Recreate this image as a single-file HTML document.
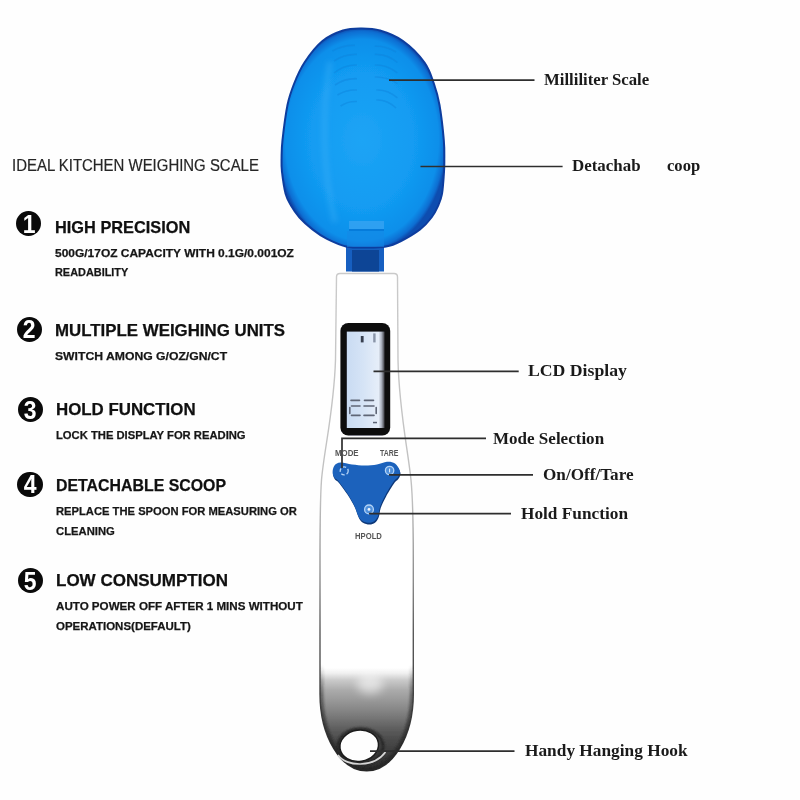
<!DOCTYPE html>
<html lang="en">
<head>
<meta charset="utf-8">
<title>Digital Spoon Scale - Features</title>
<style>
html,body{margin:0;padding:0;background:#fefefe;}
body{width:800px;height:800px;position:relative;overflow:hidden;font-family:"Liberation Sans",sans-serif;}
#art{position:absolute;left:0;top:0;width:800px;height:800px;}
.t{position:absolute;margin:0;padding:0;white-space:nowrap;line-height:1;transform-origin:0 0;filter:blur(0.35px);}
.n{font-family:"Liberation Sans",sans-serif;font-weight:700;-webkit-text-stroke:0.25px currentColor;}
.s{font-family:"Liberation Serif",serif;font-weight:700;}
.r{font-weight:400;-webkit-text-stroke:0.2px currentColor;}
.k{-webkit-text-stroke:0;}
.num{position:absolute;width:25px;height:25px;border-radius:50%;background:#0a0a0a;color:#fff;font-family:"Liberation Sans",sans-serif;font-weight:700;font-size:25.5px;text-align:center;filter:blur(0.35px);}
.num b{display:inline-block;transform:scaleX(0.9);position:relative;top:0.6px;}
</style>
</head>
<body>
<svg id="art" width="800" height="800" viewBox="0 0 800 800">
<defs>
  <radialGradient id="scoopG" gradientUnits="userSpaceOnUse" cx="362" cy="140" r="112" gradientTransform="translate(362 140) scale(0.76 1) translate(-362 -140)">
    <stop offset="0" stop-color="#1ea4f5"/>
    <stop offset="0.6" stop-color="#129cf2"/>
    <stop offset="0.9" stop-color="#0e8fea"/>
    <stop offset="0.97" stop-color="#0b6ed2"/>
    <stop offset="1" stop-color="#0a4eb0"/>
  </radialGradient>
  <linearGradient id="handleG" gradientUnits="userSpaceOnUse" x1="0" y1="668" x2="0" y2="771">
    <stop offset="0" stop-color="#ffffff"/>
    <stop offset="0.05" stop-color="#f0f0f0"/>
    <stop offset="0.117" stop-color="#cacaca"/>
    <stop offset="0.214" stop-color="#ababab"/>
    <stop offset="0.31" stop-color="#999999"/>
    <stop offset="0.408" stop-color="#868686"/>
    <stop offset="0.505" stop-color="#717171"/>
    <stop offset="0.6" stop-color="#5c5c5c"/>
    <stop offset="0.7" stop-color="#4a4a4a"/>
    <stop offset="0.893" stop-color="#353535"/>
    <stop offset="1" stop-color="#2c2c2c"/>
  </linearGradient>
  <linearGradient id="handleS" gradientUnits="userSpaceOnUse" x1="0" y1="274" x2="0" y2="771">
    <stop offset="0" stop-color="#cacaca"/>
    <stop offset="0.45" stop-color="#c0c0c0"/>
    <stop offset="0.62" stop-color="#8a8a8a"/>
    <stop offset="0.72" stop-color="#5a5a5a"/>
    <stop offset="1" stop-color="#2a2a2a"/>
  </linearGradient>
  <linearGradient id="edgeG" gradientUnits="userSpaceOnUse" x1="0" y1="665" x2="0" y2="771">
    <stop offset="0" stop-color="#333" stop-opacity="0"/>
    <stop offset="0.3" stop-color="#333" stop-opacity="0.55"/>
    <stop offset="1" stop-color="#222" stop-opacity="0.9"/>
  </linearGradient>
  <linearGradient id="lcdG" x1="0" y1="0" x2="1" y2="0">
    <stop offset="0" stop-color="#c9dbf2"/>
    <stop offset="0.45" stop-color="#d6e4f6"/>
    <stop offset="0.84" stop-color="#e6eef9"/>
    <stop offset="0.92" stop-color="#a8aebb"/>
    <stop offset="1" stop-color="#3a3b40"/>
  </linearGradient>
  <filter id="b1"><feGaussianBlur stdDeviation="0.6"/></filter>
  <filter id="b2" x="-0.2" y="-0.2" width="1.4" height="1.4"><feGaussianBlur stdDeviation="1.2"/></filter>
  <filter id="b3" filterUnits="userSpaceOnUse" x="280" y="20" width="170" height="240"><feGaussianBlur stdDeviation="2.5"/></filter>
  <filter id="b5" x="-1" y="-1" width="3" height="3"><feGaussianBlur stdDeviation="5"/></filter>
  <clipPath id="handleClip"><path d="M340 273.5 L394 273.5 Q397.5 273.5 397.5 277 L398 360 C399 410 408 450 411 480 C413 500 413.3 520 413.3 560 L413.3 694 A46.65 77 0 0 1 320 694 L320 560 C320 520 320 500 321.5 480 C324 450 334 410 335.5 360 L336.5 277 Q336.5 273.5 340 273.5 Z"/></clipPath>
</defs>

<!-- connector -->
<g filter="url(#b1)">
<rect x="346" y="244" width="38" height="27.5" fill="#125fc0"/>
<rect x="352" y="250" width="27" height="21.5" fill="#0a4596"/>
</g>

<!-- handle -->
<g filter="url(#b1)">
<path d="M340 273.5 L394 273.5 Q397.5 273.5 397.5 277 L398 360 C399 410 408 450 411 480 C413 500 413.3 520 413.3 560 L413.3 694 A46.65 77 0 0 1 320 694 L320 560 C320 520 320 500 321.5 480 C324 450 334 410 335.5 360 L336.5 277 Q336.5 273.5 340 273.5 Z" fill="url(#handleG)" stroke="url(#handleS)" stroke-width="1.4"/>
<g clip-path="url(#handleClip)">
  <ellipse cx="370" cy="684" rx="13" ry="10" fill="#ffffff" opacity="0.55" filter="url(#b5)"/>
  <path d="M340 273.5 L394 273.5 Q397.5 273.5 397.5 277 L398 360 C399 410 408 450 411 480 C413 500 413.3 520 413.3 560 L413.3 694 A46.65 77 0 0 1 320 694 L320 560 C320 520 320 500 321.5 480 C324 450 334 410 335.5 360 L336.5 277 Q336.5 273.5 340 273.5 Z" fill="none" stroke="url(#edgeG)" stroke-width="7" filter="url(#b2)"/>
</g>
<!-- hanging hole -->
<ellipse cx="360.5" cy="746.5" rx="22.5" ry="17.5" fill="none" stroke="#262626" stroke-width="3" filter="url(#b2)"/>
<path d="M338 755 C346 767 374 768 385.5 752" fill="none" stroke="#d6d6d6" stroke-width="1.7"/>
<ellipse cx="359.2" cy="745.7" rx="19.4" ry="15.6" fill="#fefefe" stroke="#1c1c1c" stroke-width="1.5" transform="rotate(-8 359.2 745.7)"/>
</g>

<!-- scoop -->
<g filter="url(#b1)">
<path id="scoop" d="M361.0 28.5 C367.2 28.5 373.0 28.4 380.0 30.5 C387.0 32.6 395.6 35.7 403.0 41.0 C410.4 46.3 419.3 55.3 424.5 62.5 C429.7 69.7 431.5 76.9 434.0 84.0 C436.5 91.1 437.9 95.7 439.5 105.0 C441.1 114.3 443.0 130.8 443.8 140.0 C444.6 149.2 444.3 154.7 444.3 160.0 C444.3 165.3 444.4 166.4 444.0 172.0 C443.6 177.6 443.0 188.2 442.0 193.8 C441.0 199.3 439.9 201.6 438.2 205.6 C436.4 209.6 434.5 213.5 431.5 217.5 C428.5 221.5 425.1 225.5 420.0 229.4 C414.9 233.3 406.7 238.1 401.0 241.0 C395.3 243.9 391.8 245.5 386.0 246.6 C380.2 247.7 372.7 247.6 366.0 247.6 C359.3 247.6 352.5 247.8 346.0 246.4 C339.5 245.0 332.6 241.7 327.0 238.9 C321.4 236.1 317.1 233.0 312.5 229.4 C307.9 225.8 303.1 221.5 299.5 217.5 C295.9 213.5 293.3 209.6 291.0 205.6 C288.7 201.6 287.1 199.3 285.6 193.8 C284.1 188.2 282.7 178.0 282.0 172.0 C281.3 166.0 281.5 163.3 281.6 158.0 C281.7 152.7 281.5 148.8 282.5 140.0 C283.5 131.2 285.6 114.3 287.5 105.0 C289.4 95.7 291.2 91.1 294.0 84.0 C296.8 76.9 299.8 69.7 304.5 62.5 C309.2 55.3 316.1 46.3 322.5 41.0 C328.9 35.7 336.6 32.6 343.0 30.5 C349.4 28.4 354.8 28.5 361.0 28.5 Z" fill="url(#scoopG)" stroke="#0b3d9e" stroke-width="2"/>
</g>
<!-- scoop details -->
<g fill="none" stroke="#0a7fd8" stroke-width="1.6" opacity="0.4" filter="url(#b1)">
  <path d="M332.5 51.0 Q342.8 44.9 355.0 45.4"/>
  <path d="M334.0 61.0 Q344.5 53.9 357.0 54.4"/>
  <path d="M334.0 73.0 Q344.5 64.5 357.0 65.0"/>
  <path d="M335.0 85.0 Q345.0 78.2 357.0 78.7"/>
  <path d="M337.4 95.0 Q346.2 89.5 357.0 90.0"/>
  <path d="M340.6 106.0 Q347.8 101.0 357.0 101.5"/>
  <path d="M374.8 46.2 Q386.4 45.8 396.0 52.0"/>
  <path d="M374.8 54.4 Q387.1 53.9 397.5 62.5"/>
  <path d="M374.8 65.0 Q387.1 64.5 397.5 73.0"/>
  <path d="M374.8 77.0 Q387.1 76.5 397.5 83.6"/>
  <path d="M376.4 90.0 Q387.9 89.5 397.5 98.0"/>
  <path d="M376.4 100.0 Q387.2 99.5 396.0 108.0"/>
</g>
<g filter="url(#b3)" opacity="0.3">
  <path d="M330 62 C322 110 322 170 335 222" fill="none" stroke="#4ab6fa" stroke-width="6"/>
</g>
<g filter="url(#b1)">
<rect x="349" y="221" width="35" height="8" fill="#45a8f4" opacity="0.6"/>
<rect x="349" y="229" width="35" height="2" fill="#0a6cd0" opacity="0.6"/>
<rect x="347" y="231" width="37" height="16" fill="#1a86e6" opacity="0.55"/>
</g>

<!-- LCD -->
<g filter="url(#b1)">
<rect x="340.4" y="323" width="49.8" height="112.6" rx="8" fill="#0c0c0e"/>
<rect x="346.8" y="331.6" width="37.8" height="96.4" fill="url(#lcdG)"/>
<g fill="none" stroke="#5f6676" stroke-width="1.6" stroke-linecap="round">
  <path d="M351 400.4 H359.5 M351.5 406 H360 M349.8 407.5 V413.5 M351.5 415.4 H360"/>
  <path d="M364.5 400.4 H373.5 M364 406 H374 M376.2 407.5 V413.5 M364 415.4 H374"/>
</g>
<rect x="360.8" y="336" width="2.8" height="6.4" fill="#384050"/>
<rect x="373.2" y="333.4" width="2.4" height="9" fill="#8a95a8"/>
<rect x="373" y="421.8" width="4" height="1.5" fill="#5b6474"/>
</g>

<!-- button -->
<g filter="url(#b1)">
<path d="M332.6 472.3 C332.6 470.3 333.2 467.1 334.5 465.5 C335.8 463.9 337.6 462.6 340.5 462.5 C343.4 462.4 347.9 464.1 352.0 464.6 C356.1 465.1 360.6 465.6 364.8 465.6 C369.0 465.6 373.3 465.1 377.0 464.5 C380.7 463.9 384.0 462.0 387.0 461.8 C390.0 461.6 392.9 462.0 395.0 463.5 C397.1 465.0 399.4 468.6 399.9 470.9 C400.4 473.1 399.0 475.2 398.0 477.0 C397.0 478.8 395.8 478.5 393.7 481.5 C391.6 484.5 387.7 490.9 385.5 495.0 C383.3 499.1 381.5 502.6 380.3 506.0 C379.1 509.4 379.2 513.0 378.2 515.5 C377.2 518.0 376.0 519.8 374.5 521.0 C373.0 522.2 371.0 522.8 369.0 522.8 C367.0 522.8 364.2 522.0 362.5 521.0 C360.8 520.0 359.8 519.0 358.5 516.5 C357.2 514.0 356.2 509.6 354.5 506.0 C352.8 502.4 351.0 499.1 348.4 495.0 C345.8 490.9 341.0 484.4 338.7 481.5 C336.4 478.6 335.3 479.0 334.3 477.5 C333.3 476.0 332.6 474.3 332.6 472.3 Z" fill="#0f3878" transform="translate(0.5 1.8)"/>
<path d="M332.6 472.3 C332.6 470.3 333.2 467.1 334.5 465.5 C335.8 463.9 337.6 462.6 340.5 462.5 C343.4 462.4 347.9 464.1 352.0 464.6 C356.1 465.1 360.6 465.6 364.8 465.6 C369.0 465.6 373.3 465.1 377.0 464.5 C380.7 463.9 384.0 462.0 387.0 461.8 C390.0 461.6 392.9 462.0 395.0 463.5 C397.1 465.0 399.4 468.6 399.9 470.9 C400.4 473.1 399.0 475.2 398.0 477.0 C397.0 478.8 395.8 478.5 393.7 481.5 C391.6 484.5 387.7 490.9 385.5 495.0 C383.3 499.1 381.5 502.6 380.3 506.0 C379.1 509.4 379.2 513.0 378.2 515.5 C377.2 518.0 376.0 519.8 374.5 521.0 C373.0 522.2 371.0 522.8 369.0 522.8 C367.0 522.8 364.2 522.0 362.5 521.0 C360.8 520.0 359.8 519.0 358.5 516.5 C357.2 514.0 356.2 509.6 354.5 506.0 C352.8 502.4 351.0 499.1 348.4 495.0 C345.8 490.9 341.0 484.4 338.7 481.5 C336.4 478.6 335.3 479.0 334.3 477.5 C333.3 476.0 332.6 474.3 332.6 472.3 Z" fill="#1c62bc"/>
<circle cx="344.2" cy="470.9" r="4" fill="none" stroke="#b4d4f6" stroke-width="1.3" stroke-dasharray="3.6 2"/>
<circle cx="389.6" cy="470.5" r="4.2" fill="#4f90dc" stroke="#b4d4f6" stroke-width="1.3"/>
<rect x="389.1" y="468.6" width="1" height="3.8" fill="#e8f2fd"/>
<circle cx="369" cy="509.4" r="4.4" fill="#4f90dc" stroke="#b4d4f6" stroke-width="1.3"/>
<circle cx="369" cy="509.4" r="1.4" fill="#f0f6fe"/>
</g>

<!-- leader lines -->
<g fill="none" stroke="#2e2e2e" stroke-width="1.7" filter="url(#b1)">
  <path d="M389 80.2 H534.5"/>
  <path d="M420.5 166.5 H562.6"/>
  <path d="M373.5 371.4 H518.7"/>
  <path d="M342 468 V438.4 H486"/>
  <path d="M389 474.8 H533"/>
  <path d="M369 513.6 H511"/>
  <path d="M370 751.2 H514.5"/>
</g>
</svg>

<div class="num" style="left:16.35px;top:211.00px;width:24.8px;height:24.8px;line-height:24.8px"><b>1</b></div>
<div class="num" style="left:16.80px;top:316.80px;width:25.4px;height:25.4px;line-height:25.4px"><b>2</b></div>
<div class="num" style="left:17.55px;top:397.05px;width:25.4px;height:25.4px;line-height:25.4px"><b>3</b></div>
<div class="num" style="left:17.40px;top:471.80px;width:25.4px;height:25.4px;line-height:25.4px"><b>4</b></div>
<div class="num" style="left:17.90px;top:568.10px;width:25.4px;height:25.4px;line-height:25.4px"><b>5</b></div>

<h1 class="t n r" style="left:12.1px;top:158px;font-size:16.8px;color:#262626;transform:scaleX(0.8905)">IDEAL KITCHEN WEIGHING SCALE</h1>
<h2 class="t n" style="left:55.0px;top:220px;font-size:16.6px;color:#101010;transform:scaleX(0.9848)">HIGH PRECISION</h2>
<p class="t n" style="left:55.0px;top:248px;font-size:11.5px;color:#161616;transform:scaleX(1.0403)">500G/17OZ CAPACITY WITH 0.1G/0.001OZ</p>
<p class="t n" style="left:55.0px;top:267px;font-size:11.5px;color:#161616;transform:scaleX(0.9481)">READABILITY</p>
<h2 class="t n" style="left:55.0px;top:323px;font-size:16.6px;color:#101010;transform:scaleX(1.0160)">MULTIPLE WEIGHING UNITS</h2>
<p class="t n" style="left:55.0px;top:351px;font-size:11.5px;color:#161616;transform:scaleX(1.0592)">SWITCH AMONG G/OZ/GN/CT</p>
<h2 class="t n" style="left:55.5px;top:402px;font-size:16.6px;color:#101010;transform:scaleX(1.0163)">HOLD FUNCTION</h2>
<p class="t n" style="left:55.5px;top:430px;font-size:11.5px;color:#161616;transform:scaleX(0.9761)">LOCK THE DISPLAY FOR READING</p>
<h2 class="t n" style="left:55.5px;top:478px;font-size:16.6px;color:#101010;transform:scaleX(0.9571)">DETACHABLE SCOOP</h2>
<p class="t n" style="left:55.5px;top:506px;font-size:11.5px;color:#161616;transform:scaleX(0.9738)">REPLACE THE SPOON FOR MEASURING OR</p>
<p class="t n" style="left:55.5px;top:526px;font-size:11.5px;color:#161616;transform:scaleX(0.9790)">CLEANING</p>
<h2 class="t n" style="left:55.5px;top:573px;font-size:16.6px;color:#101010;transform:scaleX(1.0251)">LOW CONSUMPTION</h2>
<p class="t n" style="left:55.5px;top:601px;font-size:11.5px;color:#161616;transform:scaleX(1.0086)">AUTO POWER OFF AFTER 1 MINS WITHOUT</p>
<p class="t n" style="left:55.5px;top:621px;font-size:11.5px;color:#161616;transform:scaleX(0.9984)">OPERATIONS(DEFAULT)</p>
<span class="t s" style="left:543.7px;top:71px;font-size:17px;color:#1a1a1a;transform:scaleX(0.9845)">Milliliter Scale</span>
<span class="t s" style="left:572.0px;top:157px;font-size:17px;color:#1a1a1a;transform:scaleX(0.9949)">Detachab</span>
<span class="t s" style="left:667.4px;top:157px;font-size:17px;color:#1a1a1a;transform:scaleX(0.9765)">coop</span>
<span class="t s" style="left:528.1px;top:362px;font-size:17px;color:#1a1a1a;transform:scaleX(1.0417)">LCD Display</span>
<span class="t s" style="left:492.5px;top:430px;font-size:17px;color:#1a1a1a;transform:scaleX(1.0013)">Mode Selection</span>
<span class="t s" style="left:543.4px;top:466px;font-size:17px;color:#1a1a1a;transform:scaleX(1.0096)">On/Off/Tare</span>
<span class="t s" style="left:521.3px;top:505px;font-size:17px;color:#1a1a1a;transform:scaleX(1.0157)">Hold Function</span>
<span class="t s" style="left:524.7px;top:742px;font-size:17px;color:#1a1a1a;transform:scaleX(1.0183)">Handy Hanging Hook</span>
<span class="t n k" style="left:335.4px;top:449px;font-size:9px;color:#555;transform:scaleX(0.8741)">MODE</span>
<span class="t n k" style="left:379.7px;top:449px;font-size:9px;color:#555;transform:scaleX(0.7717)">TARE</span>
<span class="t n k" style="left:354.7px;top:532px;font-size:9px;color:#555;transform:scaleX(0.8540)">HPOLD</span>
</body>
</html>
